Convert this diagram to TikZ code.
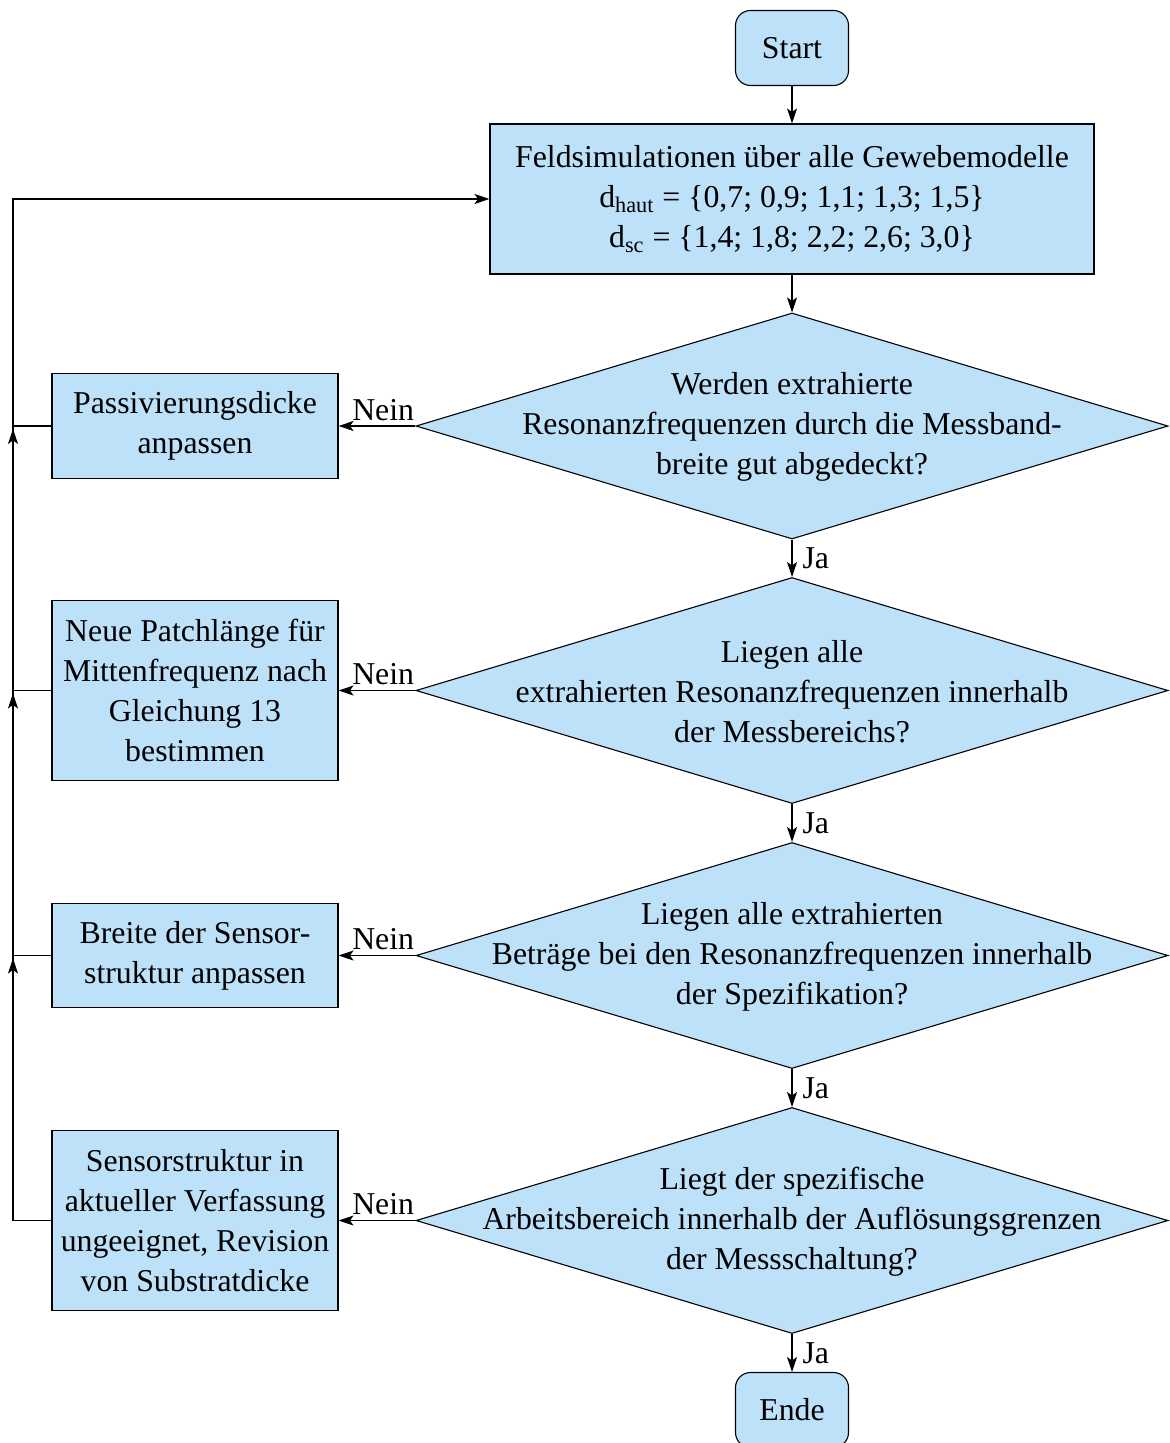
\documentclass[tikz,border=0pt]{standalone}
\usepackage{fontspec}
\setmainfont{Liberation Serif}
\usetikzlibrary{shapes.geometric,arrows.meta,calc}
\definecolor{boxfill}{RGB}{190,225,250}
\begin{document}
\begin{tikzpicture}[x=0.5pt,y=-0.5pt,
  every node/.style={font=\fontsize{15.9}{20}\selectfont},
  line/.style={draw=black,line width=0.55pt},
  arr/.style={line,-{Stealth[length=7.5pt,width=5pt,inset=1.8pt]}},
  term/.style={line,fill=boxfill,rounded corners=7.5pt,minimum width=56.5pt,minimum height=37.5pt,inner sep=0pt},
  proc/.style={line,fill=boxfill,align=center,inner sep=0pt},
  dec/.style={line,fill=boxfill,diamond,minimum width=376pt,minimum height=113pt,inner sep=0pt},
  lbl/.style={align=center,inner sep=0pt}]
\useasboundingbox (0,0) rectangle (1169,1443);

\node[term] (start) at (792,48) {Start};
\node[proc,minimum width=302pt,minimum height=75pt] (feld) at (792,199)
  {Feldsimulationen über alle Gewebemodelle\\
   d\textsubscript{haut} = \{0,7; 0,9; 1,1; 1,3; 1,5\}\\
   d\textsubscript{sc} = \{1,4; 1,8; 2,2; 2,6; 3,0\}};

\node[dec] (d1) at (792,426) {};
\node[lbl] at ([yshift=-0.5pt]d1) {Werden extrahierte\\Resonanzfrequenzen durch die Messband-\\breite gut abgedeckt?};
\node[dec] (d2) at (792,690.5) {};
\node[lbl] at ([yshift=-0.5pt]d2) {Liegen alle\\extrahierten Resonanzfrequenzen innerhalb\\der Messbereichs?};
\node[dec] (d3) at (792,955.5) {};
\node[lbl] at ([yshift=-0.5pt]d3) {Liegen alle extrahierten\\Beträge bei den Resonanzfrequenzen innerhalb\\der Spezifikation?};
\node[dec] (d4) at (792,1220.5) {};
\node[lbl] at ([yshift=-0.5pt]d4) {Liegt der spezifische\\Arbeitsbereich innerhalb der Auflösungsgrenzen\\der Messschaltung?};

\node[term] (ende) at (792,1410) {Ende};

\node[proc,minimum width=143pt,minimum height=52.5pt] (b1) at (195,426) {Passivierungsdicke\\anpassen};
\node[proc,minimum width=143pt,minimum height=90pt] (b2) at (195,690.5) {Neue Patchlänge für\\Mittenfrequenz nach\\Gleichung 13\\bestimmen};
\node[proc,minimum width=143pt,minimum height=52pt] (b3) at (195,955.5) {Breite der Sensor-\\struktur anpassen};
\node[proc,minimum width=143pt,minimum height=90pt] (b4) at (195,1220.5) {Sensorstruktur in\\aktueller Verfassung\\ungeeignet, Revision\\von Substratdicke};

\draw[arr] (start) -- (feld);
\draw[arr] (feld) -- (d1);
\draw[arr] (d1) -- node[right,inner sep=5pt]{Ja} (d2);
\draw[arr] (d2) -- node[right,inner sep=5pt]{Ja} (d3);
\draw[arr] (d3) -- node[right,inner sep=5pt]{Ja} (d4);
\draw[arr] (d4) -- node[right,inner sep=5pt]{Ja} (ende);

\draw[arr] (d1.west) -- node[above,pos=0.42,inner sep=2.5pt]{Nein} (b1.east);
\draw[arr] (d2.west) -- node[above,pos=0.42,inner sep=2.5pt]{Nein} (b2.east);
\draw[arr] (d3.west) -- node[above,pos=0.42,inner sep=2.5pt]{Nein} (b3.east);
\draw[arr] (d4.west) -- node[above,pos=0.42,inner sep=2.5pt]{Nein} (b4.east);

\coordinate (ft) at (13,199);
\draw[arr] (b4.west) -| (ft) -- (feld.west);
\draw[line] (b1.west) -- (b1.west -| ft);
\draw[line] (b2.west) -- (b2.west -| ft);
\draw[line] (b3.west) -- (b3.west -| ft);
\foreach \b in {b1,b2,b3}{
  \draw[arr] ($(\b.west -| ft)+(0,40)$) -- ($(\b.west -| ft)+(0,3)$);
}
\end{tikzpicture}
\end{document}
